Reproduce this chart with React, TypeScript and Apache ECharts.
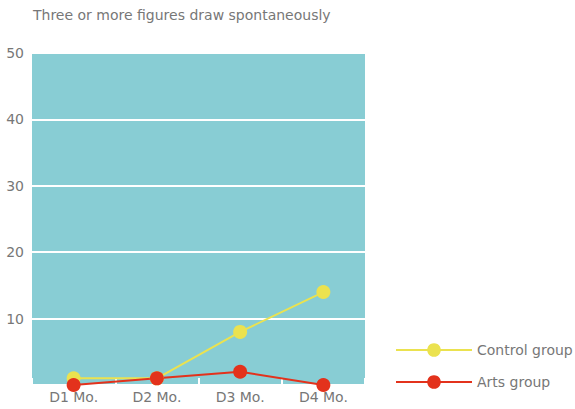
import React, { useEffect, useRef } from "react";
import * as echarts from "echarts";

const categories = ["D1 Mo.", "D2 Mo.", "D3 Mo.", "D4 Mo."];
const controlGroup = [1, 1, 8, 14];
const artsGroup = [0, 1, 2, 0];
const seriesNames = ["Control group", "Arts group"];
const titleText = "Three or more figures draw spontaneously";

const FONT = "'DejaVu Sans', sans-serif";

export default function App() {
  const ref = useRef<HTMLDivElement>(null);

  useEffect(() => {
    if (!ref.current) return;
    const chart = echarts.init(ref.current, undefined, { renderer: "svg" });
    chart.setOption({
      animation: false,
      backgroundColor: "#ffffff",
      textStyle: { fontFamily: FONT },
      title: {
        text: titleText,
        left: 28,
        top: 3,
        textStyle: { fontSize: 14, fontWeight: "normal", color: "#777777", fontFamily: FONT },
      },
      legend: {
        orient: "vertical",
        left: 390,
        top: 338,
        itemWidth: 76,
        itemHeight: 17,
        itemGap: 18,
        textStyle: { fontSize: 14, color: "#777777", fontFamily: FONT },
        data: seriesNames,
      },
      grid: {
        left: 32,
        top: 53,
        width: 333,
        height: 332,
        show: true,
        backgroundColor: "#88cdd4",
        borderWidth: 0,
        containLabel: false,
      },
      xAxis: {
        type: "category",
        data: categories,
        boundaryGap: true,
        axisLine: { show: true, lineStyle: { color: "#ffffff", width: 1 } },
        axisTick: { show: true, inside: true, length: 7, lineStyle: { color: "#ffffff", width: 2 } },
        axisLabel: { fontSize: 14, color: "#777777", margin: 5, fontFamily: FONT },
        splitLine: { show: false },
      },
      yAxis: {
        type: "value",
        min: 0,
        max: 50,
        interval: 10,
        axisLine: { show: false },
        axisTick: { show: false },
        axisLabel: { fontSize: 14, color: "#777777", margin: 8, showMinLabel: false, fontFamily: FONT },
        splitLine: { show: true, lineStyle: { color: "#ffffff", width: 2 } },
      },
      series: [
        {
          name: seriesNames[0],
          type: "line",
          data: controlGroup,
          symbol: "circle",
          symbolSize: 14,
          clip: false,
          itemStyle: { color: "#ebe24f" },
          lineStyle: { color: "#ebe24f", width: 2 },
        },
        {
          name: seriesNames[1],
          type: "line",
          data: artsGroup,
          symbol: "circle",
          symbolSize: 14,
          clip: false,
          itemStyle: { color: "#e3321c" },
          lineStyle: { color: "#e3321c", width: 2 },
        },
      ],
    });
    return () => chart.dispose();
  }, []);

  return (
    <div
      ref={ref}
      style={{ position: "absolute", left: 0, top: 0, width: 575, height: 409 }}
    />
  );
}
